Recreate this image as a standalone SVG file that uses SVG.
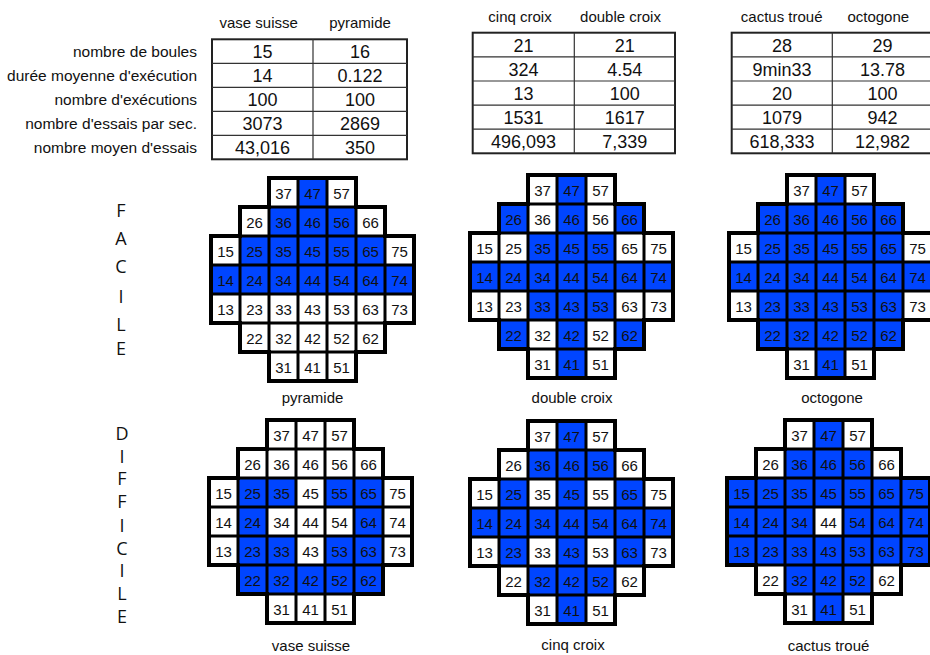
<svg xmlns="http://www.w3.org/2000/svg" xmlns:xlink="http://www.w3.org/1999/xlink" width="930" height="655" viewBox="0 0 930 655">
<style>
text{font-family:"Liberation Sans",Arial,sans-serif;fill:#111}
.lbl{font-size:15.5px;text-anchor:end}
.hd{font-size:15px;text-anchor:middle}
.v{font-size:18px;text-anchor:middle}
.n{font-size:15px;text-anchor:middle}
.cap{font-size:15px;text-anchor:middle}
.side{font-family:"Open Sans","Noto Sans",sans-serif;font-size:18px;text-anchor:middle;fill:#111}
.tb{fill:#fff;stroke:#222;stroke-width:2}
.tl{stroke:#333;stroke-width:1.2;fill:none}
.b{fill:#0045ff}
.gl{fill:none;stroke:#000;stroke-width:3}
.ol{fill:none;stroke:#000;stroke-width:4;stroke-linejoin:miter}
</style>
<defs>
<path id="shape" d="M58 0H145V29H174V58H203V145H174V174H145V203H58V174H29V145H0V58H29V29H58Z"/>
<g id="grid">
<path class="gl" d="M58 0H145M29 29H174M0 58H203M0 87H203M0 116H203M0 145H203M29 174H174M58 203H145M0 58V145M29 29V174M58 0V203M87 0V203M116 0V203M145 0V203M174 29V174M203 58V145"/>
<use xlink:href="#shape" class="ol"/>
</g>
</defs>
<rect width="930" height="655" fill="#fff"/>

<g id="row-labels">
<text class="lbl" x="197" y="56.6">nombre de boules</text>
<text class="lbl" x="197" y="80.6">durée moyenne d'exécution</text>
<text class="lbl" x="197" y="104.6">nombre d'exécutions</text>
<text class="lbl" x="197" y="128.6">nombre d'essais par sec.</text>
<text class="lbl" x="197" y="152.6">nombre moyen d'essais</text>
</g>

<g id="table-1">
<text class="hd" x="258.7" y="28">vase suisse</text>
<text class="hd" x="360" y="28">pyramide</text>
<rect class="tb" x="212" y="39.3" width="195" height="120"/>
<path class="tl" d="M212 63.3H407M212 87.3H407M212 111.3H407M212 135.3H407M313 39.3V159.3"/>
<text class="v" x="262.5" y="58.3">15</text><text class="v" x="360" y="58.3">16</text>
<text class="v" x="262.5" y="82.3">14</text><text class="v" x="360" y="82.3">0.122</text>
<text class="v" x="262.5" y="106.3">100</text><text class="v" x="360" y="106.3">100</text>
<text class="v" x="262.5" y="130.3">3073</text><text class="v" x="360" y="130.3">2869</text>
<text class="v" x="262.5" y="154.3">43,016</text><text class="v" x="360" y="154.3">350</text>
</g>

<g id="table-2">
<text class="hd" x="520" y="21.5">cinq croix</text>
<text class="hd" x="620.5" y="21.5">double croix</text>
<rect class="tb" x="472.7" y="32.7" width="202.3" height="120.6"/>
<path class="tl" d="M472.7 56.8H675M472.7 81H675M472.7 105.1H675M472.7 129.2H675M574.3 32.7V153.3"/>
<text class="v" x="523.5" y="51.7">21</text><text class="v" x="624.7" y="51.7">21</text>
<text class="v" x="523.5" y="75.8">324</text><text class="v" x="624.7" y="75.8">4.54</text>
<text class="v" x="523.5" y="99.9">13</text><text class="v" x="624.7" y="99.9">100</text>
<text class="v" x="523.5" y="124">1531</text><text class="v" x="624.7" y="124">1617</text>
<text class="v" x="523.5" y="148.1">496,093</text><text class="v" x="624.7" y="148.1">7,339</text>
</g>

<g id="table-3">
<text class="hd" x="781.7" y="21.5">cactus troué</text>
<text class="hd" x="878.3" y="21.5">octogone</text>
<rect class="tb" x="731.7" y="32.7" width="201.3" height="120.6"/>
<path class="tl" d="M731.7 56.8H933M731.7 81H933M731.7 105.1H933M731.7 129.2H933M832.3 32.7V153.3"/>
<text class="v" x="782" y="51.7">28</text><text class="v" x="882.6" y="51.7">29</text>
<text class="v" x="782" y="75.8">9min33</text><text class="v" x="882.6" y="75.8">13.78</text>
<text class="v" x="782" y="99.9">20</text><text class="v" x="882.6" y="99.9">100</text>
<text class="v" x="782" y="124">1079</text><text class="v" x="882.6" y="124">942</text>
<text class="v" x="782" y="148.1">618,333</text><text class="v" x="882.6" y="148.1">12,982</text>
</g>

<g id="label-facile">
<text class="side" x="121" y="217">F</text>
<text class="side" x="121" y="245">A</text>
<text class="side" x="121" y="273">C</text>
<text class="side" x="121" y="303">I</text>
<text class="side" x="121" y="331">L</text>
<text class="side" x="121" y="355">E</text>
</g>
<g id="label-difficile">
<text class="side" x="122" y="440">D</text>
<text class="side" x="122" y="463">I</text>
<text class="side" x="122" y="485">F</text>
<text class="side" x="122" y="508">F</text>
<text class="side" x="122" y="532">I</text>
<text class="side" x="122" y="555">C</text>
<text class="side" x="122" y="577">I</text>
<text class="side" x="122" y="600">L</text>
<text class="side" x="122" y="623">E</text>
</g>

<g id="board-pyramide" transform="translate(211,178)">
<use xlink:href="#shape" fill="#fff"/>
<rect class="b" x="87" y="0" width="29" height="29"/>
<rect class="b" x="58" y="29" width="87" height="29"/>
<rect class="b" x="29" y="58" width="145" height="29"/>
<rect class="b" x="0" y="87" width="203" height="29"/>
<use xlink:href="#grid"/>
<text class="n" y="21"><tspan x="72.5">37</tspan><tspan x="101.5">47</tspan><tspan x="130.5">57</tspan></text>
<text class="n" y="50"><tspan x="43.5">26</tspan><tspan x="72.5">36</tspan><tspan x="101.5">46</tspan><tspan x="130.5">56</tspan><tspan x="159.5">66</tspan></text>
<text class="n" y="79"><tspan x="14.5">15</tspan><tspan x="43.5">25</tspan><tspan x="72.5">35</tspan><tspan x="101.5">45</tspan><tspan x="130.5">55</tspan><tspan x="159.5">65</tspan><tspan x="188.5">75</tspan></text>
<text class="n" y="108"><tspan x="14.5">14</tspan><tspan x="43.5">24</tspan><tspan x="72.5">34</tspan><tspan x="101.5">44</tspan><tspan x="130.5">54</tspan><tspan x="159.5">64</tspan><tspan x="188.5">74</tspan></text>
<text class="n" y="137"><tspan x="14.5">13</tspan><tspan x="43.5">23</tspan><tspan x="72.5">33</tspan><tspan x="101.5">43</tspan><tspan x="130.5">53</tspan><tspan x="159.5">63</tspan><tspan x="188.5">73</tspan></text>
<text class="n" y="166"><tspan x="43.5">22</tspan><tspan x="72.5">32</tspan><tspan x="101.5">42</tspan><tspan x="130.5">52</tspan><tspan x="159.5">62</tspan></text>
<text class="n" y="195"><tspan x="72.5">31</tspan><tspan x="101.5">41</tspan><tspan x="130.5">51</tspan></text>
<text class="cap" x="101.5" y="225">pyramide</text>
</g>

<g id="board-double-croix" transform="translate(470,175)">
<use xlink:href="#shape" fill="#fff"/>
<rect class="b" x="87" y="0" width="29" height="203"/>
<rect class="b" x="29" y="29" width="29" height="29"/>
<rect class="b" x="145" y="29" width="29" height="29"/>
<rect class="b" x="58" y="58" width="87" height="87"/>
<rect class="b" x="0" y="87" width="203" height="29"/>
<rect class="b" x="29" y="145" width="29" height="29"/>
<rect class="b" x="145" y="145" width="29" height="29"/>
<use xlink:href="#grid"/>
<text class="n" y="21"><tspan x="72.5">37</tspan><tspan x="101.5">47</tspan><tspan x="130.5">57</tspan></text>
<text class="n" y="50"><tspan x="43.5">26</tspan><tspan x="72.5">36</tspan><tspan x="101.5">46</tspan><tspan x="130.5">56</tspan><tspan x="159.5">66</tspan></text>
<text class="n" y="79"><tspan x="14.5">15</tspan><tspan x="43.5">25</tspan><tspan x="72.5">35</tspan><tspan x="101.5">45</tspan><tspan x="130.5">55</tspan><tspan x="159.5">65</tspan><tspan x="188.5">75</tspan></text>
<text class="n" y="108"><tspan x="14.5">14</tspan><tspan x="43.5">24</tspan><tspan x="72.5">34</tspan><tspan x="101.5">44</tspan><tspan x="130.5">54</tspan><tspan x="159.5">64</tspan><tspan x="188.5">74</tspan></text>
<text class="n" y="137"><tspan x="14.5">13</tspan><tspan x="43.5">23</tspan><tspan x="72.5">33</tspan><tspan x="101.5">43</tspan><tspan x="130.5">53</tspan><tspan x="159.5">63</tspan><tspan x="188.5">73</tspan></text>
<text class="n" y="166"><tspan x="43.5">22</tspan><tspan x="72.5">32</tspan><tspan x="101.5">42</tspan><tspan x="130.5">52</tspan><tspan x="159.5">62</tspan></text>
<text class="n" y="195"><tspan x="72.5">31</tspan><tspan x="101.5">41</tspan><tspan x="130.5">51</tspan></text>
<text class="cap" x="102" y="228">double croix</text>
</g>

<g id="board-octogone" transform="translate(729,175)">
<use xlink:href="#shape" fill="#fff"/>
<rect class="b" x="87" y="0" width="29" height="203"/>
<rect class="b" x="29" y="29" width="145" height="145"/>
<rect class="b" x="0" y="87" width="203" height="29"/>
<use xlink:href="#grid"/>
<text class="n" y="21"><tspan x="72.5">37</tspan><tspan x="101.5">47</tspan><tspan x="130.5">57</tspan></text>
<text class="n" y="50"><tspan x="43.5">26</tspan><tspan x="72.5">36</tspan><tspan x="101.5">46</tspan><tspan x="130.5">56</tspan><tspan x="159.5">66</tspan></text>
<text class="n" y="79"><tspan x="14.5">15</tspan><tspan x="43.5">25</tspan><tspan x="72.5">35</tspan><tspan x="101.5">45</tspan><tspan x="130.5">55</tspan><tspan x="159.5">65</tspan><tspan x="188.5">75</tspan></text>
<text class="n" y="108"><tspan x="14.5">14</tspan><tspan x="43.5">24</tspan><tspan x="72.5">34</tspan><tspan x="101.5">44</tspan><tspan x="130.5">54</tspan><tspan x="159.5">64</tspan><tspan x="188.5">74</tspan></text>
<text class="n" y="137"><tspan x="14.5">13</tspan><tspan x="43.5">23</tspan><tspan x="72.5">33</tspan><tspan x="101.5">43</tspan><tspan x="130.5">53</tspan><tspan x="159.5">63</tspan><tspan x="188.5">73</tspan></text>
<text class="n" y="166"><tspan x="43.5">22</tspan><tspan x="72.5">32</tspan><tspan x="101.5">42</tspan><tspan x="130.5">52</tspan><tspan x="159.5">62</tspan></text>
<text class="n" y="195"><tspan x="72.5">31</tspan><tspan x="101.5">41</tspan><tspan x="130.5">51</tspan></text>
<text class="cap" x="103" y="228">octogone</text>
</g>

<g id="board-vase-suisse" transform="translate(209,420)">
<use xlink:href="#shape" fill="#fff"/>
<rect class="b" x="29" y="58" width="58" height="29"/>
<rect class="b" x="116" y="58" width="58" height="29"/>
<rect class="b" x="29" y="87" width="29" height="29"/>
<rect class="b" x="145" y="87" width="29" height="29"/>
<rect class="b" x="29" y="116" width="58" height="29"/>
<rect class="b" x="116" y="116" width="58" height="29"/>
<rect class="b" x="29" y="145" width="145" height="29"/>
<use xlink:href="#grid"/>
<text class="n" y="21"><tspan x="72.5">37</tspan><tspan x="101.5">47</tspan><tspan x="130.5">57</tspan></text>
<text class="n" y="50"><tspan x="43.5">26</tspan><tspan x="72.5">36</tspan><tspan x="101.5">46</tspan><tspan x="130.5">56</tspan><tspan x="159.5">66</tspan></text>
<text class="n" y="79"><tspan x="14.5">15</tspan><tspan x="43.5">25</tspan><tspan x="72.5">35</tspan><tspan x="101.5">45</tspan><tspan x="130.5">55</tspan><tspan x="159.5">65</tspan><tspan x="188.5">75</tspan></text>
<text class="n" y="108"><tspan x="14.5">14</tspan><tspan x="43.5">24</tspan><tspan x="72.5">34</tspan><tspan x="101.5">44</tspan><tspan x="130.5">54</tspan><tspan x="159.5">64</tspan><tspan x="188.5">74</tspan></text>
<text class="n" y="137"><tspan x="14.5">13</tspan><tspan x="43.5">23</tspan><tspan x="72.5">33</tspan><tspan x="101.5">43</tspan><tspan x="130.5">53</tspan><tspan x="159.5">63</tspan><tspan x="188.5">73</tspan></text>
<text class="n" y="166"><tspan x="43.5">22</tspan><tspan x="72.5">32</tspan><tspan x="101.5">42</tspan><tspan x="130.5">52</tspan><tspan x="159.5">62</tspan></text>
<text class="n" y="195"><tspan x="72.5">31</tspan><tspan x="101.5">41</tspan><tspan x="130.5">51</tspan></text>
<text class="cap" x="102" y="231">vase suisse</text>
</g>

<g id="board-cinq-croix" transform="translate(470,421)">
<use xlink:href="#shape" fill="#fff"/>
<rect class="b" x="87" y="0" width="29" height="203"/>
<rect class="b" x="58" y="29" width="87" height="29"/>
<rect class="b" x="58" y="145" width="87" height="29"/>
<rect class="b" x="0" y="87" width="203" height="29"/>
<rect class="b" x="29" y="58" width="29" height="87"/>
<rect class="b" x="145" y="58" width="29" height="87"/>
<use xlink:href="#grid"/>
<text class="n" y="21"><tspan x="72.5">37</tspan><tspan x="101.5">47</tspan><tspan x="130.5">57</tspan></text>
<text class="n" y="50"><tspan x="43.5">26</tspan><tspan x="72.5">36</tspan><tspan x="101.5">46</tspan><tspan x="130.5">56</tspan><tspan x="159.5">66</tspan></text>
<text class="n" y="79"><tspan x="14.5">15</tspan><tspan x="43.5">25</tspan><tspan x="72.5">35</tspan><tspan x="101.5">45</tspan><tspan x="130.5">55</tspan><tspan x="159.5">65</tspan><tspan x="188.5">75</tspan></text>
<text class="n" y="108"><tspan x="14.5">14</tspan><tspan x="43.5">24</tspan><tspan x="72.5">34</tspan><tspan x="101.5">44</tspan><tspan x="130.5">54</tspan><tspan x="159.5">64</tspan><tspan x="188.5">74</tspan></text>
<text class="n" y="137"><tspan x="14.5">13</tspan><tspan x="43.5">23</tspan><tspan x="72.5">33</tspan><tspan x="101.5">43</tspan><tspan x="130.5">53</tspan><tspan x="159.5">63</tspan><tspan x="188.5">73</tspan></text>
<text class="n" y="166"><tspan x="43.5">22</tspan><tspan x="72.5">32</tspan><tspan x="101.5">42</tspan><tspan x="130.5">52</tspan><tspan x="159.5">62</tspan></text>
<text class="n" y="195"><tspan x="72.5">31</tspan><tspan x="101.5">41</tspan><tspan x="130.5">51</tspan></text>
<text class="cap" x="103" y="229">cinq croix</text>
</g>

<g id="board-cactus-troue" transform="translate(727,420)">
<use xlink:href="#shape" fill="#fff"/>
<rect class="b" x="87" y="0" width="29" height="87"/>
<rect class="b" x="87" y="116" width="29" height="87"/>
<rect class="b" x="58" y="29" width="29" height="145"/>
<rect class="b" x="116" y="29" width="29" height="145"/>
<rect class="b" x="0" y="58" width="58" height="87"/>
<rect class="b" x="145" y="58" width="58" height="87"/>
<use xlink:href="#grid"/>
<text class="n" y="21"><tspan x="72.5">37</tspan><tspan x="101.5">47</tspan><tspan x="130.5">57</tspan></text>
<text class="n" y="50"><tspan x="43.5">26</tspan><tspan x="72.5">36</tspan><tspan x="101.5">46</tspan><tspan x="130.5">56</tspan><tspan x="159.5">66</tspan></text>
<text class="n" y="79"><tspan x="14.5">15</tspan><tspan x="43.5">25</tspan><tspan x="72.5">35</tspan><tspan x="101.5">45</tspan><tspan x="130.5">55</tspan><tspan x="159.5">65</tspan><tspan x="188.5">75</tspan></text>
<text class="n" y="108"><tspan x="14.5">14</tspan><tspan x="43.5">24</tspan><tspan x="72.5">34</tspan><tspan x="101.5">44</tspan><tspan x="130.5">54</tspan><tspan x="159.5">64</tspan><tspan x="188.5">74</tspan></text>
<text class="n" y="137"><tspan x="14.5">13</tspan><tspan x="43.5">23</tspan><tspan x="72.5">33</tspan><tspan x="101.5">43</tspan><tspan x="130.5">53</tspan><tspan x="159.5">63</tspan><tspan x="188.5">73</tspan></text>
<text class="n" y="166"><tspan x="43.5">22</tspan><tspan x="72.5">32</tspan><tspan x="101.5">42</tspan><tspan x="130.5">52</tspan><tspan x="159.5">62</tspan></text>
<text class="n" y="195"><tspan x="72.5">31</tspan><tspan x="101.5">41</tspan><tspan x="130.5">51</tspan></text>
<text class="cap" x="101.5" y="231">cactus troué</text>
</g>
</svg>
